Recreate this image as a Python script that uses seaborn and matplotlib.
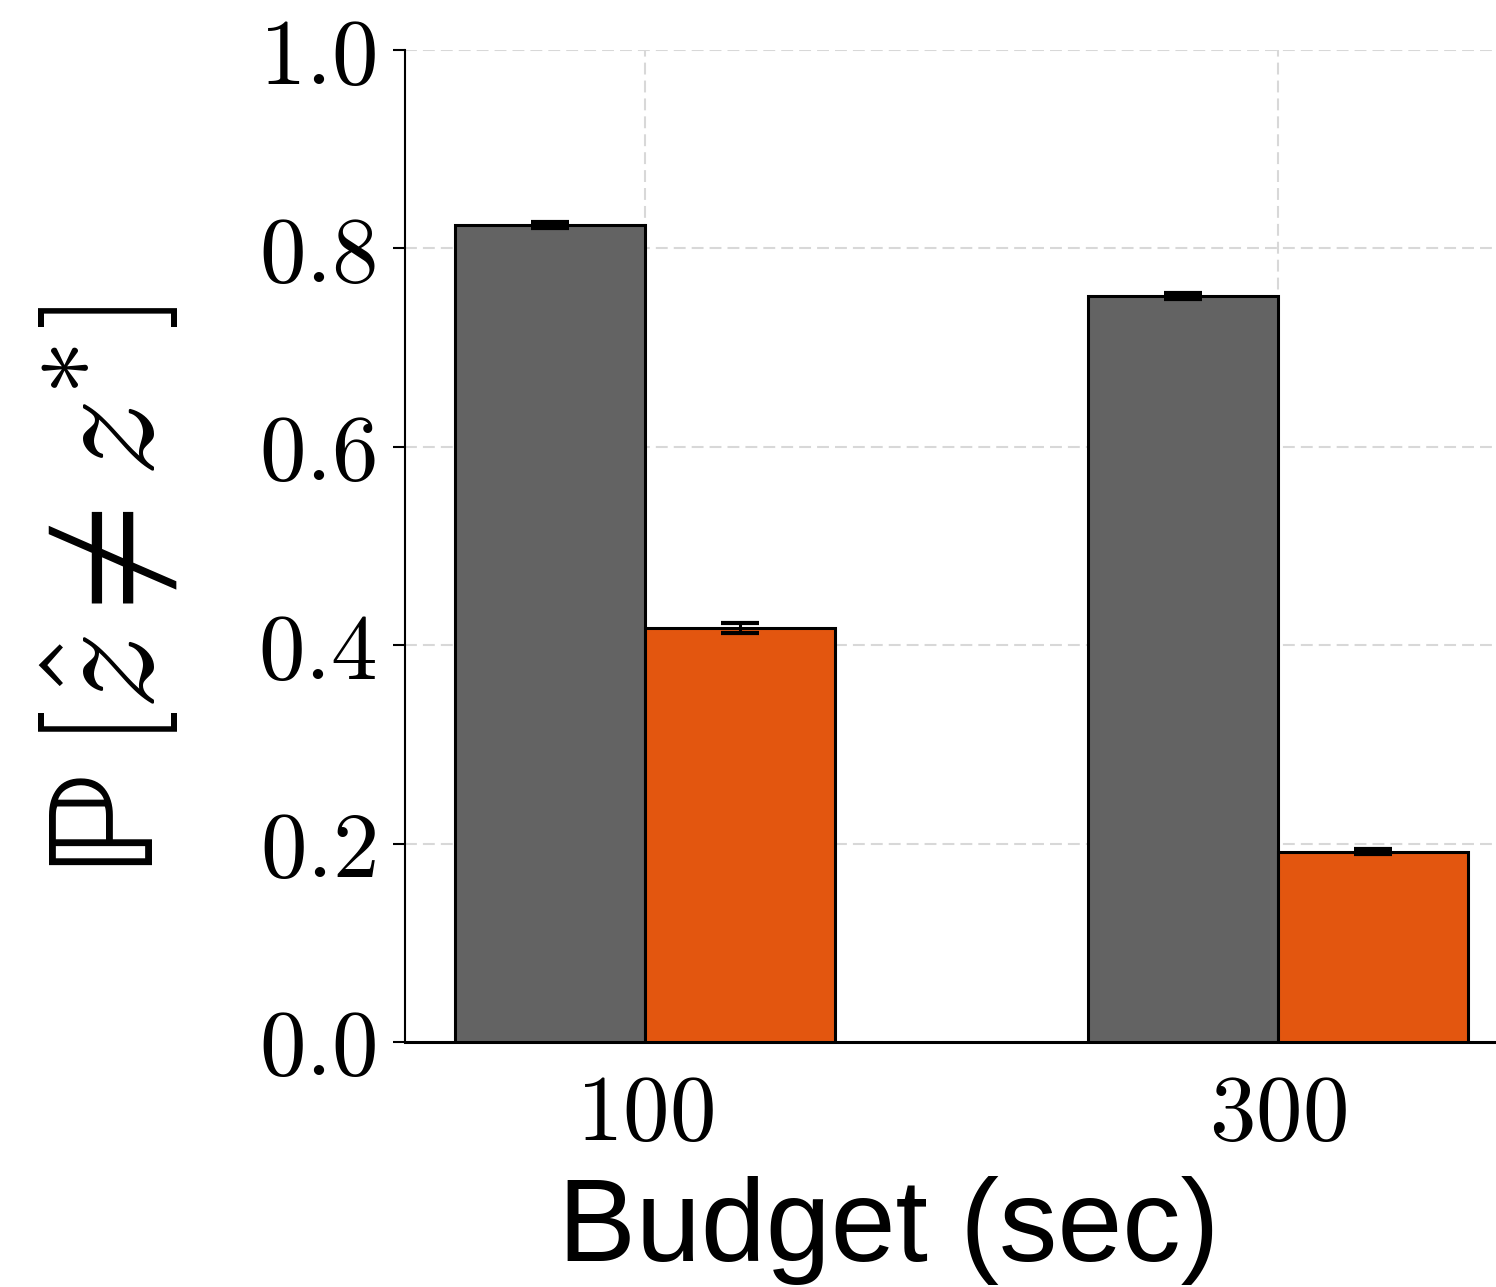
import matplotlib
matplotlib.use("Agg")
import matplotlib.pyplot as plt
import seaborn as sns
import pandas as pd

# Error rates per time budget for the two methods
budgets = ["100", "300"]
methods = ["Baseline", "Ours"]
baseline_mean = [0.824, 0.752]
ours_mean = [0.417, 0.192]
baseline_err = [0.003, 0.003]
ours_err = [0.005, 0.003]
colors = ["#636363", "#E3560F"]

df = pd.DataFrame({
    "budget": budgets * 2,
    "method": [methods[0]] * 2 + [methods[1]] * 2,
    "value": baseline_mean + ours_mean,
    "err": baseline_err + ours_err,
})

sns.set_style("white")
plt.rcParams["mathtext.fontset"] = "cm"
plt.rcParams["font.family"] = ["Liberation Sans", "DejaVu Sans"]
plt.rcParams["text.color"] = "black"
plt.rcParams["axes.labelcolor"] = "black"
plt.rcParams["xtick.color"] = "black"
plt.rcParams["ytick.color"] = "black"

fig = plt.figure(figsize=(14.96, 12.87), dpi=100)
ax = fig.add_axes([0.2707, 0.1904, 0.7293, 0.7707])

sns.barplot(data=df, x="budget", y="value", hue="method", order=budgets,
            hue_order=methods, palette=colors, width=0.6, errorbar=None,
            edgecolor="black", linewidth=2.2, saturation=1, legend=False,
            ax=ax, zorder=3)

# error bars placed at the centre of each drawn bar
ordered = df.set_index(["method", "budget"]).loc[[(m, b) for m in methods for b in budgets]]
for (_, row), patch in zip(ordered.iterrows(), ax.patches):
    cx = patch.get_x() + patch.get_width() / 2
    ax.errorbar(cx, row["value"], yerr=row["err"], fmt="none", ecolor="black",
                elinewidth=2.2, capsize=14, capthick=3, zorder=4)

ax.set_ylim(0, 1.0)
ax.set_xlim(-0.379, 1.344)
yt = [0.0, 0.2, 0.4, 0.6, 0.8, 1.0]
ax.set_yticks(yt)
ax.set_yticklabels([f"${v:.1f}$" for v in yt])
ax.set_xticks([0, 1])
ax.set_xticklabels([f"${b}$" for b in budgets])
ax.tick_params(axis="x", labelsize=67, length=0, pad=22)
ax.tick_params(axis="y", labelsize=67, length=9, width=1.5, direction="out",
               left=True, pad=12)

ax.grid(True, linestyle=(0, (5.7, 2.9)), color="#d8d8d8", linewidth=1.5, zorder=0)
ax.set_axisbelow(True)
for s in ["top", "right"]:
    ax.spines[s].set_visible(False)
ax.spines["left"].set_linewidth(1.5)
ax.spines["bottom"].set_linewidth(2.2)
for s in ["left", "bottom"]:
    ax.spines[s].set_color("black")

ax.set_xlabel("Budget (sec)", fontsize=84, labelpad=10)
ax.xaxis.set_label_coords(0.443, -0.135)
ax.set_ylabel("ℙ" + r"$\,\left[\hat{z} \neq z^{*}\right]$", fontsize=112,
              family=["STIXGeneral", "DejaVu Sans"])
ax.yaxis.set_label_coords(-0.2, 0.455)

fig.savefig("out.png", dpi=100)
